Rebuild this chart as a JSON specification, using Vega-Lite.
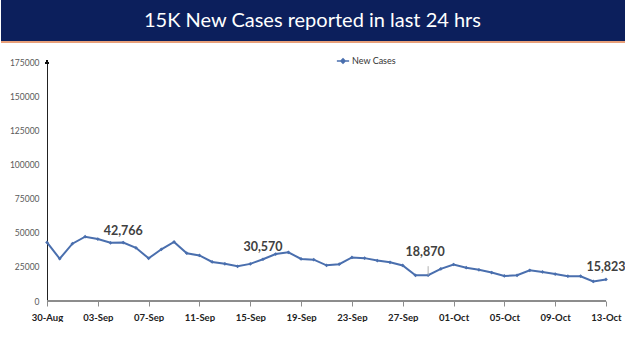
{
  "$schema": "https://vega.github.io/schema/vega-lite/v6.json",
  "padding": 0,
  "background": "white",
  "spacing": 15,
  "config": {"view": {"stroke": null}, "font": "Lato"},
  "datasets": {
    "cases": [
      {"date": "30-Aug", "cases": 42909, "series": "New Cases"},
      {"date": "31-Aug", "cases": 30941, "series": "New Cases"},
      {"date": "01-Sep", "cases": 41965, "series": "New Cases"},
      {"date": "02-Sep", "cases": 47092, "series": "New Cases"},
      {"date": "03-Sep", "cases": 45352, "series": "New Cases"},
      {"date": "04-Sep", "cases": 42618, "series": "New Cases"},
      {"date": "05-Sep", "cases": 42766, "series": "New Cases"},
      {"date": "06-Sep", "cases": 38948, "series": "New Cases"},
      {"date": "07-Sep", "cases": 31222, "series": "New Cases"},
      {"date": "08-Sep", "cases": 37875, "series": "New Cases"},
      {"date": "09-Sep", "cases": 43263, "series": "New Cases"},
      {"date": "10-Sep", "cases": 34973, "series": "New Cases"},
      {"date": "11-Sep", "cases": 33376, "series": "New Cases"},
      {"date": "12-Sep", "cases": 28591, "series": "New Cases"},
      {"date": "13-Sep", "cases": 27254, "series": "New Cases"},
      {"date": "14-Sep", "cases": 25404, "series": "New Cases"},
      {"date": "15-Sep", "cases": 27176, "series": "New Cases"},
      {"date": "16-Sep", "cases": 30570, "series": "New Cases"},
      {"date": "17-Sep", "cases": 34403, "series": "New Cases"},
      {"date": "18-Sep", "cases": 35662, "series": "New Cases"},
      {"date": "19-Sep", "cases": 30773, "series": "New Cases"},
      {"date": "20-Sep", "cases": 30256, "series": "New Cases"},
      {"date": "21-Sep", "cases": 26115, "series": "New Cases"},
      {"date": "22-Sep", "cases": 26964, "series": "New Cases"},
      {"date": "23-Sep", "cases": 31923, "series": "New Cases"},
      {"date": "24-Sep", "cases": 31382, "series": "New Cases"},
      {"date": "25-Sep", "cases": 29616, "series": "New Cases"},
      {"date": "26-Sep", "cases": 28326, "series": "New Cases"},
      {"date": "27-Sep", "cases": 26041, "series": "New Cases"},
      {"date": "28-Sep", "cases": 18795, "series": "New Cases"},
      {"date": "29-Sep", "cases": 18870, "series": "New Cases"},
      {"date": "30-Sep", "cases": 23529, "series": "New Cases"},
      {"date": "01-Oct", "cases": 26727, "series": "New Cases"},
      {"date": "02-Oct", "cases": 24354, "series": "New Cases"},
      {"date": "03-Oct", "cases": 22842, "series": "New Cases"},
      {"date": "04-Oct", "cases": 20799, "series": "New Cases"},
      {"date": "05-Oct", "cases": 18346, "series": "New Cases"},
      {"date": "06-Oct", "cases": 18833, "series": "New Cases"},
      {"date": "07-Oct", "cases": 22431, "series": "New Cases"},
      {"date": "08-Oct", "cases": 21257, "series": "New Cases"},
      {"date": "09-Oct", "cases": 19740, "series": "New Cases"},
      {"date": "10-Oct", "cases": 18166, "series": "New Cases"},
      {"date": "11-Oct", "cases": 18132, "series": "New Cases"},
      {"date": "12-Oct", "cases": 14313, "series": "New Cases"},
      {"date": "13-Oct", "cases": 15823, "series": "New Cases"}
    ]
  },
  "vconcat": [
    {
      "width": 625,
      "height": 42,
      "view": {"fill": "#0c1f5c", "stroke": null},
      "data": {"values": [{"title": "15K New Cases reported in last 24 hrs"}]},
      "layer": [
        {
          "mark": {"type": "text", "color": "white", "fontSize": 20, "font": "Lato", "baseline": "middle", "align": "center", "dx": -1},
          "encoding": {
            "text": {"field": "title"},
            "y": {"datum": 0.5, "scale": {"domain": [0, 1]}, "axis": null}
          }
        },
        {
          "mark": {"type": "rule", "color": "#e8a07a", "strokeWidth": 2},
          "encoding": {
            "y": {"datum": 0, "scale": {"domain": [0, 1]}, "axis": null}
          }
        }
      ]
    },
    {
      "width": 625,
      "height": 239,
      "data": {"name": "cases"},
      "encoding": {
        "x": {
          "field": "date", "type": "ordinal", "sort": null,
          "scale": {"type": "point", "padding": 0, "range": [46, 605]},
          "axis": {
            "title": null,
            "values": ["30-Aug", "03-Sep", "07-Sep", "11-Sep", "15-Sep", "19-Sep", "23-Sep", "27-Sep", "01-Oct", "05-Oct", "09-Oct", "13-Oct"],
            "labelAngle": 0, "labelFontWeight": "bold", "labelFontSize": 9.5, "labelColor": "#222222",
            "domain": false, "tickColor": "#8c8c8c", "tickSize": 5, "labelPadding": 6, "grid": false
          }
        },
        "y": {
          "field": "cases", "type": "quantitative",
          "scale": {"domain": [0, 175000]},
          "axis": {
            "title": null, "values": [0, 25000, 50000, 75000, 100000, 125000, 150000, 175000],
            "format": "d", "labelFontSize": 8.5, "labelColor": "#595959", "ticks": false,
            "labelPadding": 8, "domainColor": "#222222", "grid": false, "offset": -46
          }
        }
      },
      "layer": [
        {
          "mark": {"type": "line", "strokeWidth": 2, "point": {"shape": "diamond", "size": 14, "filled": true}},
          "encoding": {
            "color": {
              "field": "series", "type": "nominal",
              "scale": {"range": ["#4a6fae"]},
              "legend": {
                "title": null, "orient": "none", "legendX": 335, "legendY": 54,
                "symbolType": "M-1,0L1,0M0,-0.35L0.35,0L0,0.35L-0.35,0Z",
                "symbolSize": 150, "symbolStrokeWidth": 1.5, "symbolFillColor": "#4a6fae",
                "labelFontSize": 9, "labelColor": "#333333", "labelOffset": 2, "padding": 0
              }
            }
          }
        },
        {
          "transform": [{"filter": {"field": "date", "oneOf": ["05-Sep", "16-Sep", "13-Oct"]}}],
          "mark": {"type": "text", "dy": -12, "fontSize": 12.5, "fontWeight": "bold", "color": "#404040"},
          "encoding": {"text": {"field": "cases", "type": "quantitative", "format": ",d"}}
        },
        {
          "transform": [{"filter": {"field": "date", "oneOf": ["29-Sep"]}}],
          "mark": {"type": "text", "dy": -23, "dx": -3, "fontSize": 12.5, "fontWeight": "bold", "color": "#404040"},
          "encoding": {"text": {"field": "cases", "type": "quantitative", "format": ",d"}}
        },
        {
          "transform": [{"filter": {"field": "date", "oneOf": ["29-Sep"]}}],
          "mark": {"type": "rule", "color": "#b0b0b0", "strokeWidth": 1},
          "encoding": {"y2": {"datum": 25500}}
        },
        {
          "mark": {"type": "rule", "color": "#8c8c8c", "strokeWidth": 1},
          "encoding": {"x": {"datum": "30-Aug"}, "x2": {"datum": "13-Oct"}, "y": {"datum": 0}}
        },
        {
          "mark": {"type": "point", "shape": "triangle-up", "size": 14, "filled": true, "color": "#111111", "opacity": 1},
          "encoding": {"x": {"datum": "30-Aug"}, "y": {"datum": 175000}}
        }
      ]
    }
  ]
}
